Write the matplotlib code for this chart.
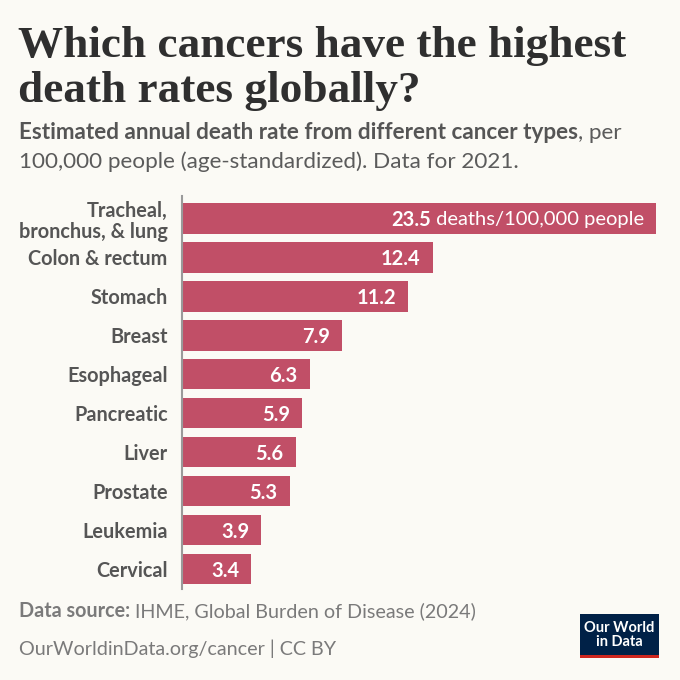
import matplotlib
matplotlib.use("Agg")
import matplotlib.pyplot as plt
from matplotlib.patches import Rectangle
from matplotlib.text import Annotation
from matplotlib.transforms import offset_copy

categories = ["Tracheal,\nbronchus, & lung", "Colon & rectum", "Stomach", "Breast",
              "Esophageal", "Pancreatic", "Liver", "Prostate", "Leukemia", "Cervical"]
values = [23.5, 12.4, 11.2, 7.9, 6.3, 5.9, 5.6, 5.3, 3.9, 3.4]
value_labels = ["23.5", "12.4", "11.2", "7.9", "6.3", "5.9", "5.6", "5.3", "3.9", "3.4"]
unit_suffix = " deaths/100,000 people"

BG = "#fbfaf5"
BAR = "#c14f67"
W, H = 680, 680

plt.rcParams['font.family'] = ['Lato', 'DejaVu Sans']
fig = plt.figure(figsize=(W / 100, H / 100), dpi=100, facecolor=BG)

def fx(px):
    return px / W

def fy(py):
    return 1 - py / H

# Title
title_font = dict(family=['Liberation Serif', 'DejaVu Serif'], weight='bold', color='#2f2f2f', fontsize=32.6)
fig.text(fx(18), fy(57), "Which cancers have the highest", va='baseline', ha='left', **title_font)
fig.text(fx(18), fy(102), "death rates globally?", va='baseline', ha='left', **title_font)

# Subtitle
SUB = 16.2
sub_bold = fig.text(fx(19), fy(139), "Estimated annual death rate from different cancer types",
                    va='baseline', ha='left', fontsize=SUB, weight='bold', color='#555555')
a1 = Annotation(", per", xy=(1, fy(139)), xycoords=(sub_bold, 'figure fraction'),
                va='baseline', ha='left', fontsize=SUB, color='#5b5b5b')
fig.add_artist(a1)
fig.text(fx(19), fy(168), "100,000 people (age-standardized). Data for 2021.",
         va='baseline', ha='left', fontsize=SUB, color='#5b5b5b')

# Axes
ax_top, ax_bot = 196, 589
ax = fig.add_axes([fx(183), fy(ax_bot), fx(656) - fx(183), (ax_bot - ax_top) / H])
ax.set_facecolor(BG)
n = len(categories)
ypos = list(range(n))
ax.barh(ypos, values, height=0.78, color=BAR, left=0)
ax.set_xlim(0, 23.5)
spacing = (569 - 218.5) / 9
ax.set_ylim(9 + (ax_bot - 569) / spacing, -(218.5 - ax_top) / spacing)
for s in ['top', 'right', 'bottom']:
    ax.spines[s].set_visible(False)
ax.spines['left'].set_color('#9a9a9a')
ax.spines['left'].set_linewidth(1.5)
ax.spines['left'].set_position(('outward', 1))
ax.set_xticks([])
ax.set_yticks(ypos)
ax.set_yticklabels(categories, fontsize=14.3, weight='bold', color='#555555',
                   multialignment='right', linespacing=1.1)
ax.tick_params(axis='y', length=0, pad=10)
ax.get_yticklabels()[0].set_y(-0.05)

VAL = 14.5
tr = offset_copy(ax.transData, fig=fig, x=-12, y=0, units='dots')
for i, (v, lab) in enumerate(zip(values, value_labels)):
    if i == 0:
        t = ax.text(v, i, unit_suffix, transform=tr, ha='right', va='center_baseline',
                    fontsize=VAL, color='white')
        a = Annotation(lab, xy=(0, i), xycoords=(t, tr), ha='right', va='center_baseline',
                       fontsize=VAL, color='white', weight='bold')
        ax.add_artist(a)
    else:
        ax.text(v, i, lab, transform=tr, ha='right', va='center_baseline',
                fontsize=VAL, color='white', weight='bold')

# Footer
FOOT = 14.2
fs = fig.text(fx(19), fy(617), "Data source:", va='baseline', ha='left', fontsize=FOOT,
              weight='bold', color='#7a7a7a')
a2 = Annotation(" IHME, Global Burden of Disease (2024)", xy=(1, fy(617)),
                xycoords=(fs, 'figure fraction'), va='baseline', ha='left',
                fontsize=FOOT, color='#7a7a7a')
fig.add_artist(a2)
fig.text(fx(19), fy(655), "OurWorldinData.org/cancer | CC BY", va='baseline', ha='left',
         fontsize=FOOT, color='#7a7a7a')

# Logo
lx0, ly0, lx1, ly1 = 580, 614, 659, 658
fig.add_artist(Rectangle((fx(lx0), fy(ly1)), fx(lx1 - lx0), (ly1 - ly0) / H,
                         transform=fig.transFigure, facecolor='#002147', edgecolor='none'))
fig.add_artist(Rectangle((fx(lx0), fy(ly1)), fx(lx1 - lx0), 3 / H,
                         transform=fig.transFigure, facecolor='#ce261e', edgecolor='none'))
fig.text(fx((lx0 + lx1) / 2), fy(635), "Our World\nin Data", ha='center', va='center',
         fontsize=10.5, weight='bold', color='white', linespacing=0.95)

fig.savefig("out.png", dpi=100, facecolor=BG)
